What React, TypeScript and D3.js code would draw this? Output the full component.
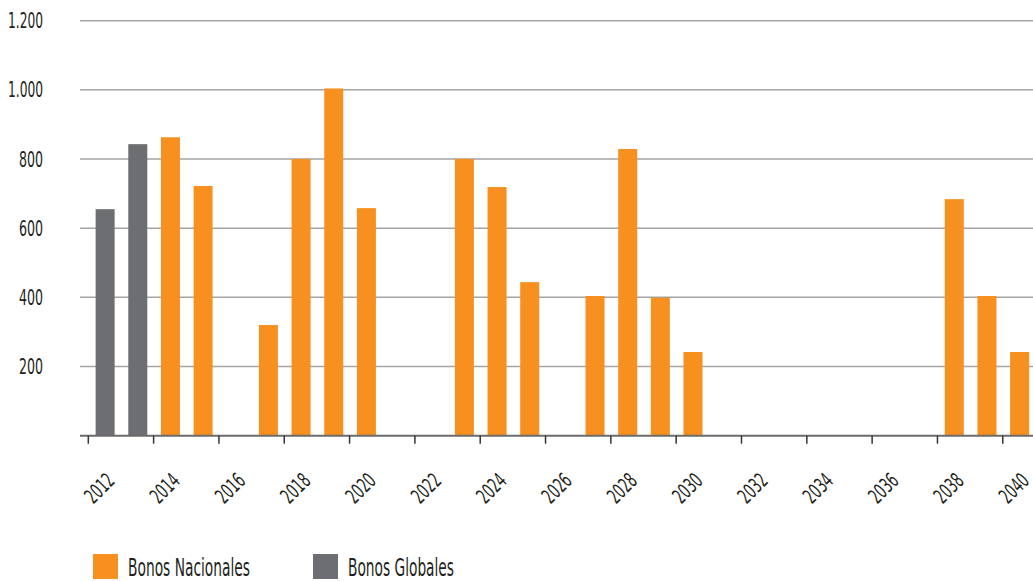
import React from "react";
import * as d3 from "d3";

const years: number[] = d3.range(2012, 2041);
const nacionales: (number | null)[] = [
  null, null, 863, 722, null, 320, 800, 1004, 658, null, null, 800, 719, 444, null,
  404, 829, 399, 242, null, null, null, null, null, null, null, 684, 404, 242,
];
const globales: (number | null)[] = [
  655, 843, null, null, null, null, null, null, null, null, null, null, null, null, null,
  null, null, null, null, null, null, null, null, null, null, null, null, null, null,
];
const yTicks: number[] = [200, 400, 600, 800, 1000, 1200];
const xTickYears: number[] = years.filter((y) => y % 2 === 0);
const legendItems = [
  { label: "Bonos Nacionales", color: "#F7901E" },
  { label: "Bonos Globales", color: "#6D6E71" },
];

const W = 1033;
const H = 581;
const FONT = "'Liberation Sans Narrow', 'DejaVu Sans Condensed', 'Roboto Condensed', sans-serif";

export default function App() {
  const x = d3
    .scaleBand<string>()
    .domain(years.map(String))
    .range([88.3, 88.3 + 32.66 * years.length])
    .padding(0);
  const y = d3.scaleLinear().domain([0, 1200]).range([435.7, 20.7]);
  const step = x.bandwidth();
  const barW = 19;
  const fmt = (v: number) => d3.format(",")(v).replace(/,/g, ".");

  const bars: { year: number; value: number; color: string }[] = [];
  years.forEach((yr, i) => {
    if (globales[i] != null) bars.push({ year: yr, value: globales[i] as number, color: legendItems[1].color });
    if (nacionales[i] != null) bars.push({ year: yr, value: nacionales[i] as number, color: legendItems[0].color });
  });

  return (
    <svg
      width={W}
      height={H}
      style={{ position: "absolute", left: 0, top: 0, background: "#fff" }}
      fontFamily={FONT}
    >
      {yTicks.map((t) => {
        const s = fmt(t);
        return (
          <g key={t}>
            <line x1={80} x2={W} y1={y(t)} y2={y(t)} stroke="#a4a4a4" strokeWidth={1.5} />
            <text
              x={43}
              y={y(t)}
              dy="0.36em"
              textAnchor="end"
              fontSize={21}
              fill="#231f20"
              textLength={s.length > 3 ? 35 : 24}
              lengthAdjust="spacingAndGlyphs"
            >
              {s}
            </text>
          </g>
        );
      })}
      {bars.map((b) => (
        <rect
          key={b.year + b.color}
          x={(x(String(b.year)) as number) + (step - barW) / 2 + 0.5}
          y={y(b.value)}
          width={barW}
          height={y(0) - y(b.value)}
          fill={b.color}
        />
      ))}
      <line x1={80} x2={W} y1={y(0)} y2={y(0)} stroke="#6b6b6b" strokeWidth={2} />
      {xTickYears.map((yr) => {
        const tx = x(String(yr)) as number;
        return (
          <g key={yr}>
            <line x1={tx} x2={tx} y1={y(0)} y2={y(0) + 8} stroke="#333" strokeWidth={1.5} />
            <g transform={`translate(${tx + 11},${488}) rotate(-45)`}>
              <text
                x={-16}
                dy="0.36em"
                fontSize={21}
                fill="#231f20"
                textLength={32}
                lengthAdjust="spacingAndGlyphs"
              >
                {yr}
              </text>
            </g>
          </g>
        );
      })}
      {legendItems.map((it, i) => {
        const lx = i === 0 ? 93 : 313;
        return (
          <g key={it.label}>
            <rect x={lx} y={554} width={25} height={25} fill={it.color} />
            <text
              x={lx + 35}
              y={576}
              fontSize={25}
              fill="#231f20"
              textLength={i === 0 ? 122 : 106}
              lengthAdjust="spacingAndGlyphs"
            >
              {it.label}
            </text>
          </g>
        );
      })}
    </svg>
  );
}
